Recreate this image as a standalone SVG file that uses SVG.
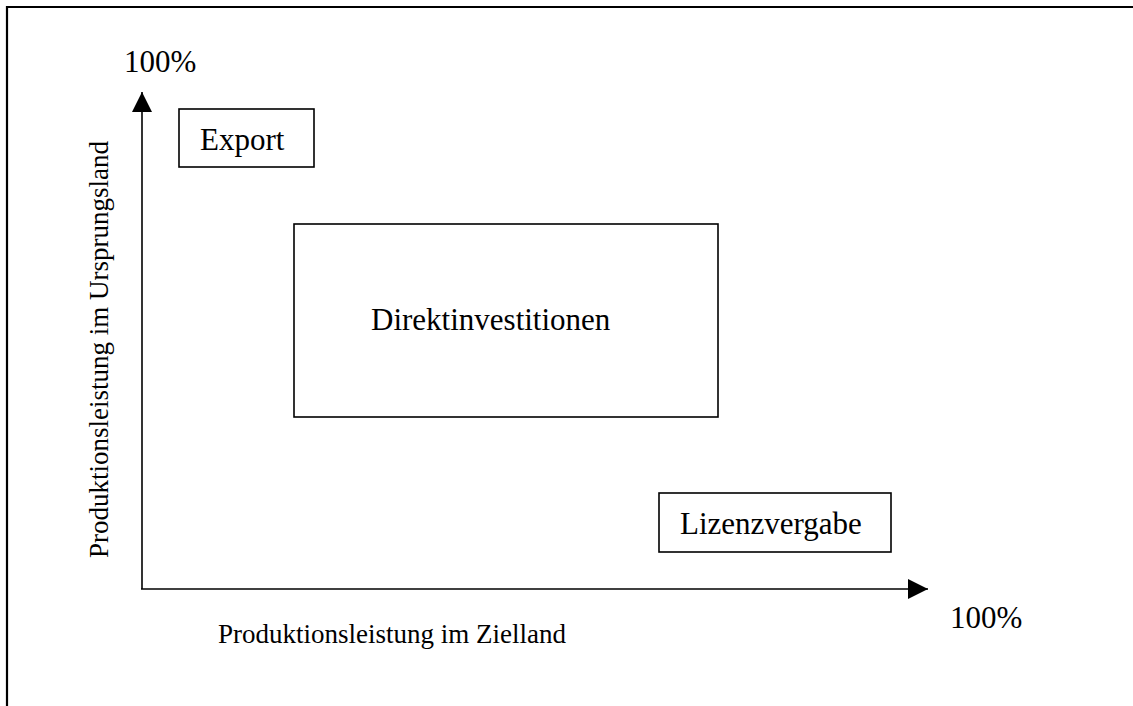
<svg xmlns="http://www.w3.org/2000/svg" width="1133" height="706" viewBox="0 0 1133 706">
  <style>
    .t { font-family: "Liberation Serif", "Times New Roman", serif; fill: #000; }
    .big { font-size: 31px; }
    .ax { font-size: 27px; }
    .box { fill: #fff; stroke: #000; stroke-width: 1.6; }
    .line { stroke: #000; stroke-width: 1.6; fill: none; }
  </style>
  <defs>
    <marker id="arrow" markerUnits="userSpaceOnUse" markerWidth="20" markerHeight="20" refX="20" refY="10" orient="auto">
      <path d="M0,0 L20,10 L0,20 Z" fill="#000"/>
    </marker>
  </defs>
  <rect x="0" y="0" width="1133" height="706" fill="#fff"/>
  <g id="frame">
    <path d="M7,720 L7,7 L1140,7" stroke="#000" stroke-width="2.2" fill="none"/>
  </g>
  <g id="connectors">
    <path class="line" d="M142,589 L142,92" marker-end="url(#arrow)"/>
    <path class="line" d="M141,589 L928,589" marker-end="url(#arrow)"/>
  </g>
  <g id="export">
    <rect class="box" x="179" y="109" width="135" height="58"/>
    <text class="t big" x="200" y="150">Export</text>
  </g>
  <g id="direktinvestitionen">
    <rect class="box" x="294" y="224" width="424" height="193"/>
    <text class="t big" x="371" y="330">Direktinvestitionen</text>
  </g>
  <g id="lizenzvergabe">
    <rect class="box" x="659" y="493" width="232" height="59"/>
    <text class="t big" x="680" y="534">Lizenzvergabe</text>
  </g>
  <g id="labels">
    <text class="t big" x="124" y="72">100%</text>
    <text class="t big" x="950" y="628">100%</text>
    <text class="t ax" x="218" y="643">Produktionsleistung im Zielland</text>
    <text class="t ax" x="108" y="558" transform="rotate(-90 108 558)">Produktionsleistung im Ursprungsland</text>
  </g>
</svg>
